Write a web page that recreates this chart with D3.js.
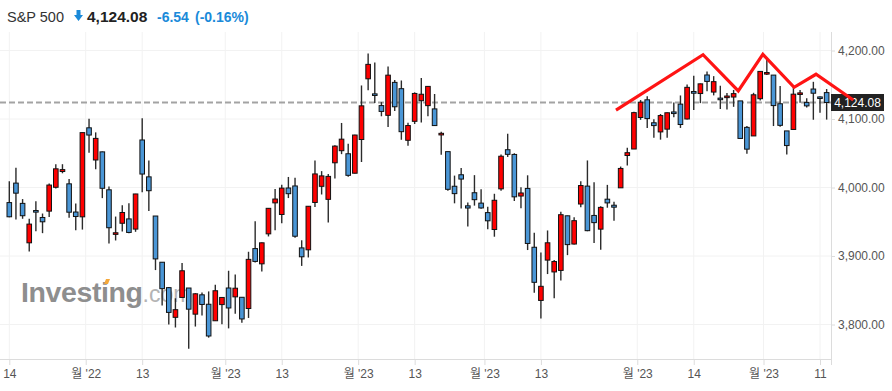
<!DOCTYPE html>
<html lang="ko">
<head>
<meta charset="utf-8">
<title>S&amp;P 500</title>
<script src="https://cdn.jsdelivr.net/npm/d3@7"></script>
<style>
  body { margin: 0; background: #fff; }
  svg { display: block; font-family: "Liberation Sans", Arial, "Noto Sans CJK KR", sans-serif; }
  .axis text { fill: #555; font-size: 12px; }
  .axis line { stroke: #dcdcdc; }
</style>
</head>
<body>
<script>
// trading days, Nov 14 2022 .. May 12 2023
var dates = [
  "2022-11-14","2022-11-15","2022-11-16","2022-11-17","2022-11-18","2022-11-21","2022-11-22","2022-11-23","2022-11-25","2022-11-28","2022-11-29","2022-11-30",
  "2022-12-01","2022-12-02","2022-12-05","2022-12-06","2022-12-07","2022-12-08","2022-12-09","2022-12-12","2022-12-13","2022-12-14","2022-12-15","2022-12-16",
  "2022-12-19","2022-12-20","2022-12-21","2022-12-22","2022-12-23","2022-12-27","2022-12-28","2022-12-29","2022-12-30",
  "2023-01-03","2023-01-04","2023-01-05","2023-01-06","2023-01-09","2023-01-10","2023-01-11","2023-01-12","2023-01-13","2023-01-17","2023-01-18","2023-01-19",
  "2023-01-20","2023-01-23","2023-01-24","2023-01-25","2023-01-26","2023-01-27","2023-01-30","2023-01-31",
  "2023-02-01","2023-02-02","2023-02-03","2023-02-06","2023-02-07","2023-02-08","2023-02-09","2023-02-10","2023-02-13","2023-02-14","2023-02-15","2023-02-16",
  "2023-02-17","2023-02-21","2023-02-22","2023-02-23","2023-02-24","2023-02-27","2023-02-28",
  "2023-03-01","2023-03-02","2023-03-03","2023-03-06","2023-03-07","2023-03-08","2023-03-09","2023-03-10","2023-03-13","2023-03-14","2023-03-15","2023-03-16",
  "2023-03-17","2023-03-20","2023-03-21","2023-03-22","2023-03-23","2023-03-24","2023-03-27","2023-03-28","2023-03-29","2023-03-30","2023-03-31",
  "2023-04-03","2023-04-04","2023-04-05","2023-04-06","2023-04-10","2023-04-11","2023-04-12","2023-04-13","2023-04-14","2023-04-17","2023-04-18","2023-04-19",
  "2023-04-20","2023-04-21","2023-04-24","2023-04-25","2023-04-26","2023-04-27","2023-04-28",
  "2023-05-01","2023-05-02","2023-05-03","2023-05-04","2023-05-05","2023-05-08","2023-05-09","2023-05-10","2023-05-11","2023-05-12"
];

var open = [3977.97,4006.41,3976.82,3919.26,3966.39,3956.23,3965.51,4000.30,4023.34,4005.36,3964.19,3957.18,
  4087.14,4040.17,4052.02,3996.63,3933.28,3947.79,3954.17,3939.29,4069.38,4015.54,3958.37,3890.91,
  3853.79,3810.47,3839.49,3853.26,3815.11,3843.34,3829.56,3805.45,3829.06,
  3853.29,3840.36,3839.74,3823.37,3910.82,3888.57,3932.35,3977.57,3960.60,3999.28,4002.25,3911.84,
  3909.04,3978.14,4001.74,3982.71,4036.08,4053.72,4049.27,4020.85,
  4070.07,4158.68,4136.69,4119.57,4105.35,4153.47,4144.25,4068.92,4096.62,4126.70,4119.50,4114.75,
  4077.39,4052.35,4001.83,4018.60,3973.24,3992.36,3977.19,
  3963.34,3938.68,3998.02,4055.15,4048.26,3987.55,3998.66,3912.77,3835.12,3894.01,3876.74,3878.93,
  3958.69,3917.47,3975.89,4002.04,3959.21,3939.21,3982.93,3974.13,3999.53,4046.74,4056.18,
  4102.20,4128.03,4094.50,4081.15,4085.20,4110.29,4121.72,4100.04,4140.11,4137.17,4164.26,4139.33,
  4130.48,4132.14,4132.07,4126.43,4087.78,4075.29,4129.63,
  4166.79,4164.10,4122.25,4082.61,4084.73,4136.98,4124.25,4143.74,4132.24,4138.54];

var high = [4008.97,4028.84,3983.09,3954.33,3979.89,3962.00,4005.88,4033.78,4034.02,4012.27,3976.77,4080.11,
  4100.51,4080.48,4052.45,4001.51,3957.57,3974.19,3977.02,3990.71,4100.96,4039.31,3958.37,3890.91,
  3854.86,3838.24,3889.82,3853.26,3845.80,3846.65,3848.32,3858.19,3839.85,
  3878.46,3873.16,3839.74,3906.19,3950.57,3919.83,3970.07,3997.76,4003.95,4015.39,4014.16,3922.94,
  3972.96,4039.31,4023.92,4019.55,4061.57,4094.21,4063.85,4077.16,
  4148.95,4195.44,4182.36,4124.63,4176.54,4156.85,4156.23,4094.36,4138.90,4159.77,4148.11,4136.54,
  4081.51,4052.35,4017.37,4028.30,3978.25,4018.05,3997.50,
  3971.73,3990.84,4048.29,4078.49,4050.00,4000.41,4017.81,3934.05,3905.05,3937.29,3894.26,3964.46,
  3958.91,3956.62,4009.08,4039.49,4007.66,3972.74,4003.83,3979.20,4030.59,4057.85,4110.75,
  4127.66,4133.13,4099.69,4107.32,4109.50,4124.26,4134.37,4150.26,4163.19,4151.72,4169.48,4162.57,
  4148.57,4138.02,4142.41,4126.43,4089.67,4138.24,4170.06,
  4186.92,4164.10,4148.30,4082.61,4147.02,4142.30,4130.35,4154.28,4132.80,4143.74];

var low = [3956.40,3953.17,3954.34,3906.54,3935.98,3933.34,3956.88,3998.66,4020.76,3955.77,3937.65,3938.58,
  4050.87,4026.63,3984.49,3918.39,3922.68,3935.83,3933.04,3935.30,3993.03,3965.65,3879.45,3827.91,
  3800.04,3795.62,3839.49,3764.49,3797.01,3813.22,3780.78,3805.45,3800.34,
  3794.33,3815.77,3802.42,3809.56,3890.42,3877.29,3928.54,3937.56,3947.67,3984.57,3926.59,3885.54,
  3897.86,3971.64,3989.79,3949.06,4013.29,4048.70,4015.55,4020.44,
  4037.20,4141.88,4123.36,4103.98,4088.39,4111.67,4069.67,4060.79,4092.67,4095.01,4103.98,4089.89,
  4047.95,3995.19,3976.90,3969.19,3943.08,3973.55,3968.98,
  3939.05,3928.16,3995.17,4044.61,3980.31,3969.76,3908.70,3846.32,3808.86,3873.63,3838.24,3864.11,
  3901.27,3916.89,3971.19,3936.17,3919.05,3909.16,3970.47,3951.53,3999.53,4032.10,4056.18,
  4098.79,4086.87,4072.56,4069.84,4072.55,4102.61,4086.94,4099.40,4113.20,4123.18,4140.36,4134.49,
  4114.57,4113.86,4117.77,4071.38,4049.35,4075.29,4127.18,
  4164.12,4089.72,4088.86,4048.28,4084.73,4123.81,4116.65,4098.92,4109.29,4099.12];

var close = [3957.25,3991.73,3958.79,3946.56,3965.34,3949.94,4003.58,4027.26,4026.12,3963.94,3957.63,4080.11,
  4076.57,4071.70,3998.84,3941.26,3933.92,3963.51,3934.38,3990.56,4019.65,3995.32,3895.75,3852.36,
  3817.66,3821.62,3878.44,3822.39,3844.82,3829.25,3783.22,3849.28,3839.50,
  3824.14,3852.97,3808.10,3895.08,3892.09,3919.25,3969.61,3983.17,3999.09,3990.97,3928.86,3898.85,
  3972.61,4019.81,4016.95,4016.22,4060.43,4070.56,4017.77,4076.60,
  4119.21,4179.76,4136.48,4111.08,4164.00,4117.86,4081.50,4090.46,4137.29,4136.13,4147.60,4090.41,
  4079.09,3997.34,3991.05,4012.32,3970.04,3982.24,3970.15,
  3951.39,3981.35,4045.64,4048.42,3986.37,3992.01,3918.32,3861.59,3855.76,3919.29,3891.93,3960.28,
  3916.64,3951.57,4002.87,3936.97,3948.72,3970.99,3977.53,3971.27,4027.81,4050.83,4109.31,
  4124.51,4100.60,4090.38,4105.02,4109.11,4108.94,4091.95,4146.22,4137.64,4151.32,4154.87,4154.52,
  4129.79,4133.52,4137.04,4071.63,4055.99,4135.35,4169.48,
  4167.87,4119.58,4090.75,4061.22,4136.25,4138.12,4119.17,4137.64,4130.62,4124.08];

// axis ticks
var tickDates  = ["2022-11-14","2022-12-01","2022-12-13","2023-01-03","2023-01-13","2023-02-01","2023-02-13","2023-03-01","2023-03-13","2023-04-03","2023-04-14","2023-05-01","2023-05-11"];
var tickLabels = ["14","월 '22","13","월 '23","13","월 '23","13","월 '23","13","월 '23","14","월 '23","11"];
var priceTicks = [3800, 3900, 4000, 4100, 4200];

// hand drawn zigzag (index, price)
var trendIdx   = [91.3, 104.4, 109.7, 113.4, 118.1, 121.4, 127.0];
var trendPrice = [4113.1, 4193.9, 4140.9, 4194.5, 4146.3, 4165.3, 4127.7];

var lastPrice = 4124.08;

var W = 892, H = 391;
var plotL = 0, plotR = 831, plotT = 32, plotB = 359;
var blue = "#4a96d6", red = "#ff0000";

var svg = d3.select("body").append("svg").attr("width", W).attr("height", H);

var x = d3.scaleLinear().domain([0, 122]).range([9.3, 820]);
var y = d3.scaleLinear().domain([3800, 4200]).range([324.5, 50.5]);

function tickPos(d, i) {
  var k = dates.indexOf(d);
  return tickLabels[i].indexOf("월") >= 0 ? k - 0.5 : k;
}
var tickIdx = tickDates.map(tickPos);

// gridlines
svg.append("g").selectAll("line").data(tickIdx).enter().append("line")
  .attr("x1", function (d) { return x(d); }).attr("x2", function (d) { return x(d); })
  .attr("y1", plotT).attr("y2", plotB)
  .attr("stroke", "#f2f2f2");
svg.append("g").selectAll("line").data(priceTicks).enter().append("line")
  .attr("x1", plotL).attr("x2", plotR)
  .attr("y1", function (d) { return y(d); }).attr("y2", function (d) { return y(d); })
  .attr("stroke", "#f2f2f2");

// watermark
var wm = svg.append("text").attr("x", 21).attr("y", 302);
wm.append("tspan").text("Investing").attr("font-weight", "bold").attr("font-size", 28.5)
  .attr("fill", "#8e8e8e").attr("letter-spacing", -0.4);
wm.append("tspan").text(".com").attr("font-size", 23).attr("fill", "#b4b4b4");
svg.append("path").attr("d", "M104,284 L106,279 L110,279 L108,284 Z").attr("fill", "#f5a83a");

// price line
svg.append("line")
  .attr("x1", plotL).attr("x2", plotR)
  .attr("y1", y(lastPrice)).attr("y2", y(lastPrice))
  .attr("stroke", "#a3a3a3").attr("stroke-width", 2).attr("stroke-dasharray", "6,3");

// candles
var idx = d3.range(dates.length);
var c = svg.append("g").selectAll("g").data(idx).enter().append("g");
c.append("line")
  .attr("x1", function (i) { return x(i); }).attr("x2", function (i) { return x(i); })
  .attr("y1", function (i) { return y(high[i]); }).attr("y2", function (i) { return y(low[i]); })
  .attr("stroke", "#2b2b2b").attr("stroke-width", 1.4);
c.append("rect")
  .attr("x", function (i) { return x(i) - 2.3; })
  .attr("width", 4.6)
  .attr("y", function (i) { return y(Math.max(open[i], close[i])); })
  .attr("height", function (i) { return Math.max(1.6, Math.abs(y(open[i]) - y(close[i]))); })
  .attr("fill", function (i) { return close[i] > open[i] ? red : blue; })
  .attr("stroke", "#111").attr("stroke-width", 1);

// x axis
var xAxis = d3.axisBottom(x).tickValues(tickIdx)
  .tickFormat(function (d, i) { return tickLabels[i]; })
  .tickSize(6).tickPadding(4);
var gx = svg.append("g").attr("class", "axis").attr("transform", "translate(0," + plotB + ")").call(xAxis);
gx.select(".domain").remove();
gx.selectAll("text").attr("font-family", "'Liberation Sans', 'Noto Sans CJK KR', sans-serif");
svg.append("line").attr("x1", plotL).attr("x2", plotR).attr("y1", plotB + 0.5).attr("y2", plotB + 0.5)
  .attr("stroke", "#dcdcdc");

// y axis
var yAxis = d3.axisRight(y).tickValues(priceTicks).tickFormat(d3.format(",.2f")).tickSize(4).tickPadding(3);
var gy = svg.append("g").attr("class", "axis").attr("transform", "translate(" + plotR + ",0)").call(yAxis);
gy.select(".domain").remove();
svg.append("line").attr("x1", plotR + 0.5).attr("x2", plotR + 0.5).attr("y1", plotT).attr("y2", plotB + 6)
  .attr("stroke", "#dcdcdc");

// last price label
var py = y(lastPrice);
svg.append("rect").attr("x", plotR).attr("y", py - 8.5).attr("width", 53).attr("height", 17).attr("fill", "#222");
svg.append("text").attr("x", plotR + 26.5).attr("y", py + 4.3).attr("text-anchor", "middle")
  .attr("fill", "#fff").attr("font-size", 12).text(d3.format(",.2f")(lastPrice));

// zigzag annotation
var line = d3.line().x(function (d) { return x(d); }).y(function (d, i) { return y(trendPrice[i]); });
svg.append("path").datum(trendIdx).attr("d", line)
  .attr("fill", "none").attr("stroke", "#ff1414").attr("stroke-width", 3.2).attr("stroke-linejoin", "miter");

// header
var hy = 22;
svg.append("text").attr("x", 7).attr("y", hy).attr("font-size", 14.5).attr("fill", "#333").text("S&P 500");
svg.append("path").attr("d", "M76.5,10 L80.5,10 L80.5,15 L83,15 L78.5,21 L74,15 L76.5,15 Z").attr("fill", "#1a8ad9");
svg.append("text").attr("x", 87).attr("y", hy).attr("font-size", 15.5).attr("font-weight", "bold")
  .attr("fill", "#222").text(d3.format(",.2f")(lastPrice));
svg.append("text").attr("x", 157).attr("y", hy).attr("font-size", 14).attr("font-weight", "bold")
  .attr("fill", "#1a8ad9").text("-6.54");
svg.append("text").attr("x", 195).attr("y", hy).attr("font-size", 14).attr("font-weight", "bold")
  .attr("fill", "#1a8ad9").text("(-0.16%)");
</script>
</body>
</html>
